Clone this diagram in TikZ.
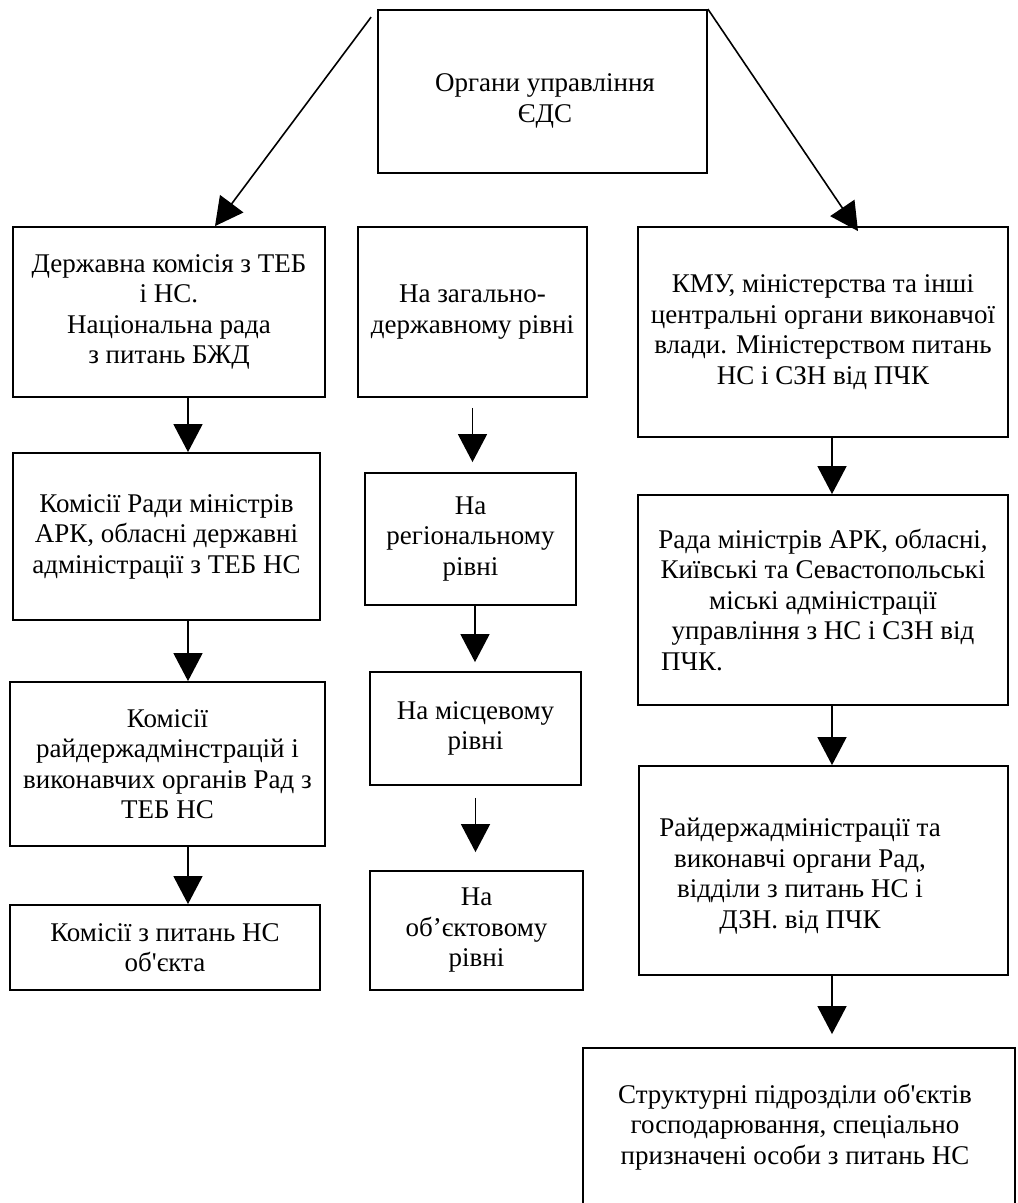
\documentclass[tikz,border=0pt]{standalone}
\usepackage{fontspec}
\setmainfont{Liberation Serif}
\usetikzlibrary{arrows.meta, positioning, calc}

\begin{document}
\begin{tikzpicture}[x=1pt, y=-1pt,
    box/.style={rectangle, draw, line width=1.8pt, inner sep=0pt, align=center,
                font=\fontsize{27}{30.5}\selectfont},
    txt/.style={align=center, inner sep=0pt, font=\fontsize{27}{30.5}\selectfont},
    flow/.style={-{Triangle[length=28pt,width=29pt]}, line width=1.6pt}]

    \useasboundingbox (0,0) rectangle (1018,1203);

    % Top
    \node[box, minimum width=329pt, minimum height=163pt] (edc) at (542.5,91.5) {};
    \node[txt] (edctxt) at (545,101) {Органи управління\\ЄДС};

    % Left column
    \node[box, minimum width=312pt, minimum height=170pt] (kom1) at (169,312) {Державна комісія з ТЕБ\\і НС.\\Національна рада\\з питань БЖД};
    \node[box, minimum width=307pt, minimum height=167pt] (kom2) at (166.5,536.5) {Комісії Ради міністрів\\АРК, обласні державні\\адміністрації з ТЕБ НС};
    \node[box, minimum width=315pt, minimum height=164pt] (kom3) at (167.5,764) {Комісії\\райдержадмінстрацій і\\виконавчих органів Рад з\\ТЕБ НС};
    \node[box, minimum width=310pt, minimum height=85pt] (kom4) at (165,947.5) {Комісії з питань НС\\об\textquotesingle єкта};

    % Middle column
    \node[box, minimum width=229pt, minimum height=170pt] (riv1) at (472.5,312) {На загально-\\державному рівні};
    \node[box, minimum width=211pt, minimum height=132pt] (riv2) at (470.5,539) {На\\регіональному\\рівні};
    \node[box, minimum width=211pt, minimum height=113pt] (riv3) at (475.5,728.5) {На місцевому\\рівні};
    \node[box, minimum width=213pt, minimum height=119pt] (riv4) at (476.5,930.5) {На\\об’єктовому\\рівні};

    % Right column
    \node[box, minimum width=370pt, minimum height=210pt] (org1) at (823,332) {КМУ, міністерства та інші\\центральні органи виконавчої\\влади. Міністерством питань\\НС і СЗН від ПЧК};
    \node[box, minimum width=370pt, minimum height=210pt] (org2) at (823,600) {Рада міністрів АРК, обласні,\\Київські та Севастопольські\\міські адміністрації\\управління з НС і СЗН від\\ПЧК.\hspace*{262pt}};
    \node[box, minimum width=369pt, minimum height=209pt] (org3) at (823.5,870.5) {};
    \node[txt] (org3txt) at (800,876) {Райдержадміністрації та\\виконавчі органи Рад,\\відділи з питань НС і\\ДЗН. від ПЧК};
    \node[box, minimum width=432pt, minimum height=170pt] (org4) at (799,1133) {};
    \node[txt] (org4txt) at (795,1127) {Структурні підрозділи об\textquotesingle єктів\\господарювання, спеціально\\призначені особи з питань НС};

    % Arrows
    \draw[flow] ([xshift=-6pt,yshift=-8pt]edc.north west) -- ([xshift=46pt]kom1.north);
    \draw[flow] (edc.north east) -- ([xshift=35pt,yshift=-5pt]org1.north);

    \draw[flow] ([xshift=19pt]kom1.south) -- ([xshift=19pt]kom1.south |- kom2.north);
    \draw[flow] ([xshift=21.5pt]kom2.south) -- ([xshift=21.5pt]kom2.south |- kom3.north);
    \draw[flow] ([xshift=20.5pt]kom3.south) -- ([xshift=20.5pt]kom3.south |- kom4.north);

    \draw[flow] ([yshift=-10pt]riv1.south) -- ([yshift=10pt]riv1.south |- riv2.north);
    \draw[flow] ([xshift=4.5pt]riv2.south) -- ([xshift=4.5pt,yshift=9pt]riv2.south |- riv3.north);
    \draw[flow] ([yshift=-12pt]riv3.south) -- ([yshift=18pt]riv3.south |- riv4.north);

    \draw[flow] ([xshift=9pt]org1.south) -- ([xshift=9pt]org1.south |- org2.north);
    \draw[flow] ([xshift=9pt]org2.south) -- ([xshift=9pt]org2.south |- org3.north);
    \draw[flow] ([xshift=8.5pt]org3.south) -- ([xshift=8.5pt,yshift=13pt]org3.south |- org4.north);

\end{tikzpicture}
\end{document}
